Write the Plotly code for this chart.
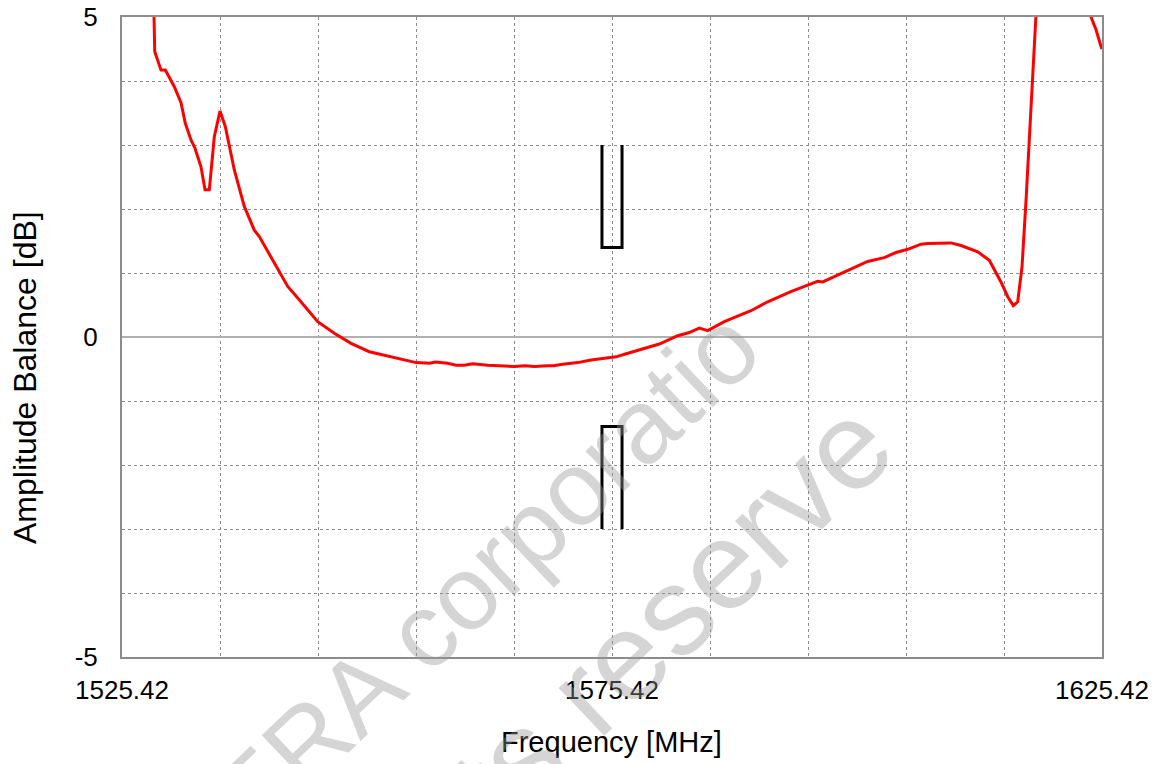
import plotly.graph_objects as go

# Measured amplitude balance (red trace)
freq_mhz = [1525.42, 1527.6, 1528.62, 1528.76, 1529.4, 1529.84, 1530.76, 1531.44, 1531.88,
            1532.46, 1532.87, 1533.48, 1533.89, 1534.33, 1534.84, 1535.42, 1535.96, 1536.88,
            1537.9, 1538.92, 1539.43, 1540.96, 1542.33, 1543.35, 1544.37, 1545.39, 1547.08,
            1548.79, 1550.65, 1552.87, 1554.23, 1555.42, 1556.78, 1557.4, 1558.65, 1559.5,
            1560.35, 1561.2, 1562.74, 1564.1, 1565.45, 1566.5, 1567.5, 1568.86, 1569.5,
            1570.2, 1571.92, 1573.28, 1574.3, 1575.83, 1576.7, 1578.38, 1580.25, 1582.12,
            1583.31, 1584.33, 1585.18, 1586.88, 1589.6, 1591.31, 1593.67, 1595.39, 1596.41,
            1596.92, 1598.45, 1600.5, 1601.51, 1603.2, 1604.4, 1605.6, 1606.95, 1607.63,
            1610.0, 1611.03, 1612.74, 1613.92, 1615.11, 1615.8, 1616.37, 1616.82, 1617.26,
            1617.67, 1618.0, 1618.35, 1618.59, 1619.2, 1621.5, 1623.0, 1624.3, 1624.81,
            1625.32, 1625.42]
balance_db = [9.0, 7.0, 5.5, 4.46, 4.17, 4.17, 3.91, 3.66, 3.34,
              3.08, 2.95, 2.66, 2.30, 2.30, 3.13, 3.53, 3.29, 2.61,
              2.04, 1.67, 1.57, 1.15, 0.79, 0.61, 0.42, 0.24, 0.06,
              -0.10, -0.23, -0.31, -0.36, -0.40, -0.41, -0.39, -0.41, -0.44,
              -0.44, -0.42, -0.44, -0.45, -0.46, -0.45, -0.46, -0.45, -0.45,
              -0.43, -0.40, -0.36, -0.34, -0.31, -0.27, -0.19, -0.11, 0.02,
              0.07, 0.14, 0.10, 0.24, 0.41, 0.55, 0.71, 0.81, 0.87,
              0.86, 0.97, 1.11, 1.18, 1.24, 1.32, 1.37, 1.45, 1.46,
              1.47, 1.43, 1.33, 1.20, 0.86, 0.63, 0.49, 0.55, 1.10,
              2.14, 3.18, 4.22, 5.0, 6.5, 6.8, 5.6, 5.0, 4.80,
              4.54, 4.50]

# Specification masks (upper / lower)
mask_x = [1574.397, 1574.397, 1576.443, 1576.443]
mask_upper_db = [3.0, 1.4, 1.4, 3.0]
mask_lower_db = [-3.0, -1.4, -1.4, -3.0]

x_ticks = [1525.42, 1575.42, 1625.42]
x_tick_text = ["1525.42", "1575.42", "1625.42"]
y_ticks = [-5, 0, 5]
y_tick_text = ["-5", "0", "5"]

FONT = "Liberation Sans, Arial, sans-serif"
WM_COLOR = "rgba(150,150,150,0.4)"

fig = go.Figure()
fig.add_trace(go.Scatter(x=freq_mhz, y=balance_db, mode="lines",
                         line=dict(color="#ff0000", width=3), showlegend=False))
fig.add_trace(go.Scatter(x=mask_x, y=mask_upper_db, mode="lines",
                         line=dict(color="#000000", width=3), showlegend=False))
fig.add_trace(go.Scatter(x=mask_x, y=mask_lower_db, mode="lines",
                         line=dict(color="#000000", width=3), showlegend=False))

grid = dict(showgrid=True, gridcolor="#8c8c8c", gridwidth=1, griddash="dot")

fig.update_xaxes(range=[1525.42, 1625.42], tickvals=x_ticks, ticktext=x_tick_text,
                 ticks="", ticklabelstandoff=9, ticklabeloverflow="allow", automargin=False,
                 showline=True, mirror=True, linecolor="#8c8c8c", linewidth=2,
                 minor=dict(tick0=1525.42, dtick=10, **grid), zeroline=False,
                 tickfont=dict(family=FONT, size=26, color="#000000"), **grid)
fig.update_yaxes(range=[-5, 5], tickvals=y_ticks, ticktext=y_tick_text,
                 ticks="", ticklabelstandoff=17, ticklabeloverflow="allow", automargin=False,
                 showline=True, mirror=True, linecolor="#8c8c8c", linewidth=2,
                 minor=dict(tick0=0, dtick=1, **grid),
                 zeroline=True, zerolinecolor="#b0b0b0", zerolinewidth=2,
                 tickfont=dict(family=FONT, size=26, color="#000000"), **grid)

annotations = [
    dict(text="Frequency [MHz]", xref="paper", yref="paper", x=0.499, y=-0.1328,
         xanchor="center", yanchor="middle", showarrow=False,
         font=dict(family=FONT, size=29, color="#000000")),
    dict(text="Amplitude Balance [dB]", xref="paper", yref="paper", x=-0.099, y=0.4375,
         xanchor="center", yanchor="middle", showarrow=False, textangle=-90,
         font=dict(family=FONT, size=32, color="#000000")),
    dict(text="ERA corporatio", xref="paper", yref="paper", x=(484 - 121) / 980,
         y=(657 - 572) / 640, xanchor="center", yanchor="middle", showarrow=False,
         textangle=-43.5, font=dict(family=FONT, size=105, color=WM_COLOR)),
    dict(text="rights reserve", xref="paper", yref="paper", x=(594 - 121) / 980,
         y=(657 - 684) / 640, xanchor="center", yanchor="middle", showarrow=False,
         textangle=-43.5, font=dict(family=FONT, size=125, color=WM_COLOR)),
]

fig.update_layout(width=1162, height=764, margin=dict(l=114, r=68, t=9, b=115, autoexpand=False),
                  paper_bgcolor="#ffffff", plot_bgcolor="#ffffff",
                  annotations=annotations, showlegend=False)

fig.write_html("out.html")
